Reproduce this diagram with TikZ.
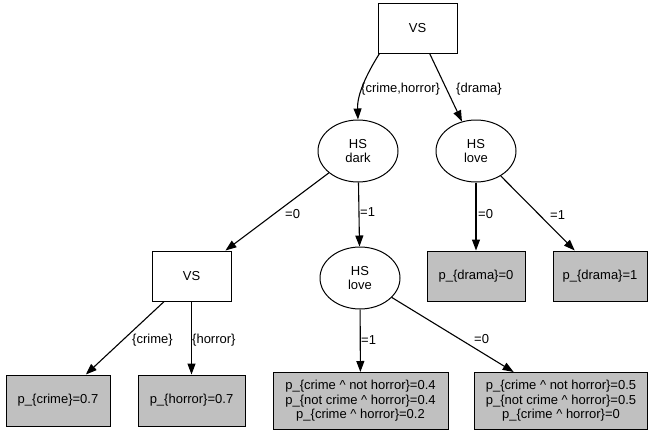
\documentclass[tikz,border=0pt]{standalone}
\usepackage{fontspec}
\setmainfont{Liberation Sans}
\usetikzlibrary{arrows.meta,shapes.geometric}
\definecolor{leafgray}{HTML}{C0C0C0}
\begin{document}
\begin{tikzpicture}[x=1pt,y=-1pt,
  font=\fontsize{13}{14.5}\selectfont,
  box/.style={draw,line width=1pt,rectangle,inner sep=0pt,align=center},
  leaf/.style={box,fill=leafgray},
  hs/.style={draw,line width=1pt,ellipse,inner sep=0pt,minimum width=80pt,minimum height=62pt,align=center},
  edge/.style={draw,line width=1.1pt,-{Triangle[length=11pt,width=8pt]}},
  lbl/.style={inner sep=0pt,anchor=west}]
\useasboundingbox (0,0) rectangle (648,434);

\node[box,minimum width=79pt,minimum height=50pt] (vs1) at (417.5,28) {VS};
\node[hs] (hsd) at (358,151) {HS\\dark};
\node[hs] (hsl) at (476,151) {HS\\love};
\node[box,minimum width=79pt,minimum height=50pt] (vs2) at (191.5,276) {VS};
\node[hs] (hsm) at (360,278) {HS\\love};
\node[leaf,minimum width=98pt,minimum height=50pt] (d0) at (476,276) {p\_\{drama\}=0};
\node[leaf,minimum width=94pt,minimum height=50pt] (d1) at (600,276) {p\_\{drama\}=1};
\node[leaf,minimum width=104pt,minimum height=51pt] (lc) at (58,400.5) {p\_\{crime\}=0.7};
\node[leaf,minimum width=107pt,minimum height=51pt] (lh) at (191.5,400.5) {p\_\{horror\}=0.7};
\node[leaf,minimum width=175pt,minimum height=57pt] (la) at (360.5,401) {p\_\{crime \textasciicircum{} not horror\}=0.4\\p\_\{not crime \textasciicircum{} horror\}=0.4\\p\_\{crime \textasciicircum{} horror\}=0.2};
\node[leaf,minimum width=173pt,minimum height=57pt] (lb) at (561,401) {p\_\{crime \textasciicircum{} not horror\}=0.5\\p\_\{not crime \textasciicircum{} horror\}=0.5\\p\_\{crime \textasciicircum{} horror\}=0};

\draw[edge] ([xshift=2pt]vs1.south west) .. controls (366,75) and (357,95) .. (hsd.north);
\draw[edge] (vs1) -- (hsl);
\draw[edge] (hsd) -- (vs2);
\draw[edge] (hsd) -- (hsm);
\draw[edge] (hsl) -- (d0);
\draw[edge] (hsl) -- (d1);
\draw[edge] (vs2) -- (lc);
\draw[edge] (vs2) -- (lh);
\draw[edge] (hsm) -- (la);
\draw[edge] (hsm) -- (lb);

\node[lbl] (t1) at (361,89) {\{crime,horror\}};
\node[lbl] (t2) at (456,89) {\{drama\}};
\node[lbl] (t3) at (285,214) {=0};
\node[lbl] (t4) at (360,212) {=1};
\node[lbl] (t5) at (132,340) {\{crime\}};
\node[lbl] (t6) at (192,340) {\{horror\}};
\node[lbl] (t7) at (361,340) {=1};
\node[lbl] (t8) at (474,339) {=0};
\node[lbl] (t9) at (478,214) {=0};
\node[lbl] (t10) at (550,215) {=1};
\end{tikzpicture}
\end{document}
